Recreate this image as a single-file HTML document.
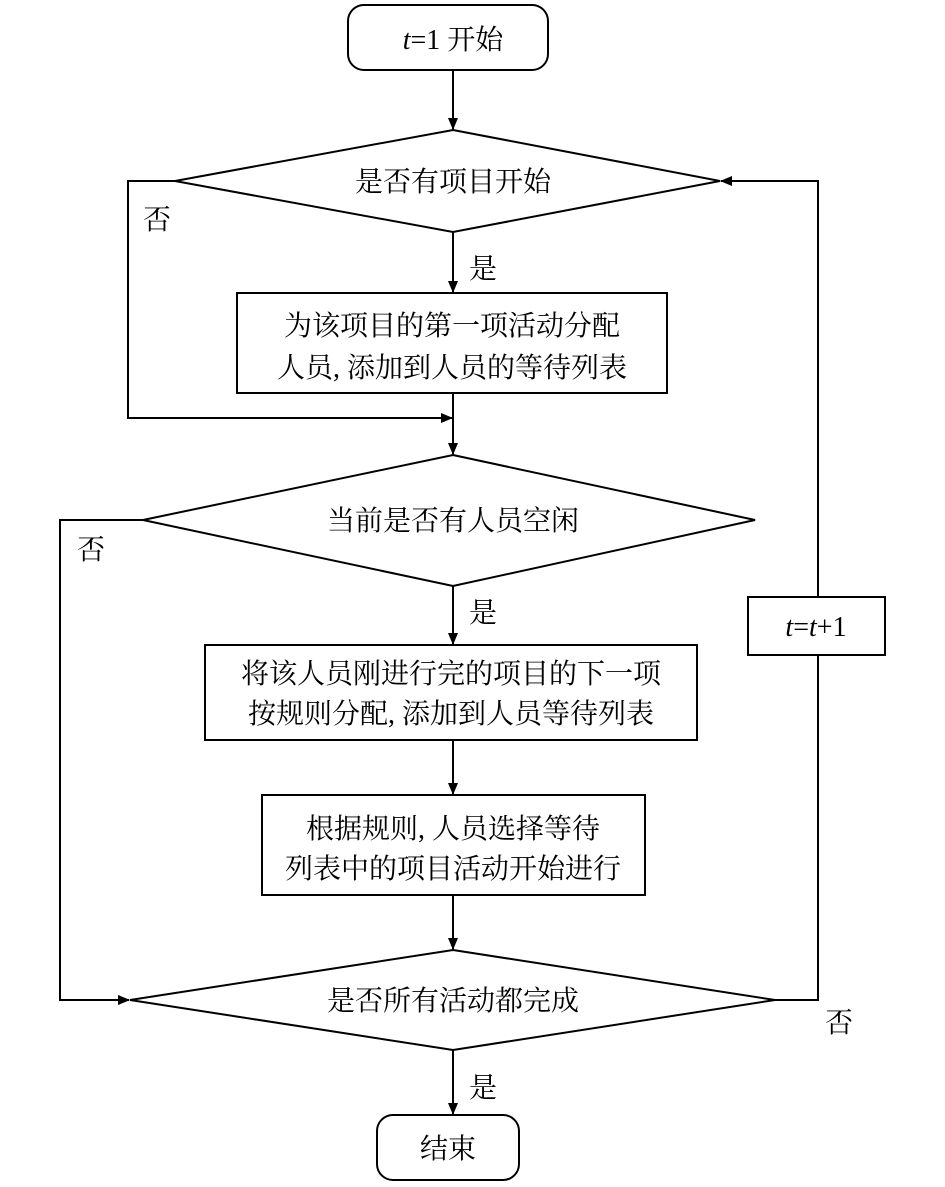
<!DOCTYPE html>
<html><head><meta charset="utf-8"><style>
html,body{margin:0;padding:0;background:#fff;}
svg{display:block}
text{font-family:"Liberation Serif","Noto Serif CJK SC",serif;font-size:28px;fill:#000}
</style></head><body>
<svg width="945" height="1187" viewBox="0 0 945 1187" xmlns="http://www.w3.org/2000/svg">
<defs><marker id="a" markerWidth="12" markerHeight="10" refX="11" refY="5" orient="auto" markerUnits="userSpaceOnUse"><path d="M0,0 L12,5 L0,10 Z" fill="#000"/></marker></defs>
<g stroke="#000" stroke-width="2" fill="none">
<rect x="348" y="5" width="200" height="65" rx="16"/>
<line x1="453" y1="70" x2="453" y2="129" marker-end="url(#a)"/>
<polygon points="453,130 720,181 453,232 175,181"/>
<line x1="453" y1="232" x2="453" y2="292" marker-end="url(#a)"/>
<rect x="237" y="293" width="430" height="100"/>
<polyline points="175,181 128,181 128,418 452,418" marker-end="url(#a)"/>
<line x1="453" y1="393" x2="453" y2="454" marker-end="url(#a)"/>
<polygon points="453,455 755,520 453,586 143,520"/>
<line x1="453" y1="586" x2="453" y2="644" marker-end="url(#a)"/>
<rect x="205" y="645" width="492" height="95"/>
<line x1="453" y1="740" x2="453" y2="794" marker-end="url(#a)"/>
<rect x="262" y="795" width="383" height="100"/>
<line x1="453" y1="895" x2="453" y2="949" marker-end="url(#a)"/>
<polygon points="453,950 775,1000 453,1050 130,1000"/>
<polyline points="143,520 60,520 60,1000 129,1000" marker-end="url(#a)"/>
<polyline points="775,1000 818,1000 818,655"/>
<rect x="748" y="597" width="137" height="58"/>
<polyline points="818,597 818,181 721,181" marker-end="url(#a)"/>
<line x1="453" y1="1050" x2="453" y2="1114" marker-end="url(#a)"/>
<rect x="377" y="1115" width="142" height="65" rx="16"/>
</g>
<g text-anchor="middle">
<text x="453" y="49"><tspan font-style="italic">t</tspan>=1 开始</text>
<text x="453" y="191">是否有项目开始</text>
<text x="452" y="335">为该项目的第一项活动分配</text>
<text x="452" y="377">人员, 添加到人员的等待列表</text>
<text x="453" y="530">当前是否有人员空闲</text>
<text x="451" y="683">将该人员刚进行完的项目的下一项</text>
<text x="451" y="723">按规则分配, 添加到人员等待列表</text>
<text x="453" y="838">根据规则, 人员选择等待</text>
<text x="453" y="878">列表中的项目活动开始进行</text>
<text x="453" y="1010">是否所有活动都完成</text>
<text x="816" y="636"><tspan font-style="italic">t</tspan>=<tspan font-style="italic">t</tspan>+1</text>
<text x="448" y="1158">结束</text>
<text x="157" y="229">否</text>
<text x="91" y="559">否</text>
<text x="839" y="1032">否</text>
<text x="483" y="278">是</text>
<text x="483" y="622">是</text>
<text x="483" y="1097">是</text>
</g>
</svg>
</body></html>
